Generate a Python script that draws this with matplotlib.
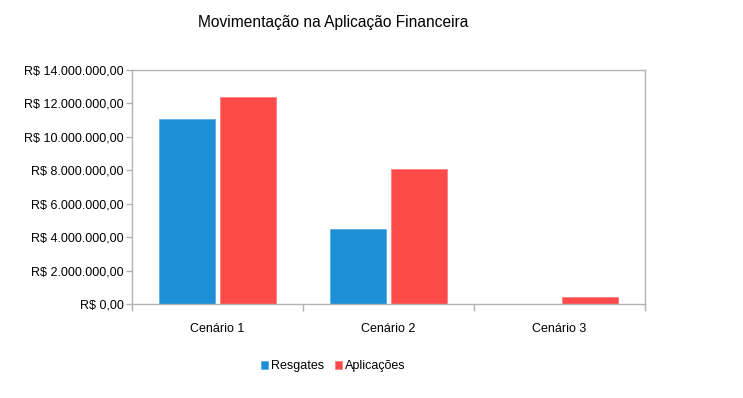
import matplotlib.pyplot as plt
import numpy as np

plt.rcParams['font.family'] = ['Liberation Sans', 'DejaVu Sans']

cenarios = ["Cenário 1", "Cenário 2", "Cenário 3"]
resgates = [11070000, 4490000, 0]
aplicacoes = [12380000, 8080000, 420000]
yticks = [0, 2000000, 4000000, 6000000, 8000000, 10000000, 12000000, 14000000]


def brl(v):
    s = f"{v:,.2f}".replace(",", "X").replace(".", ",").replace("X", ".")
    return "R$ " + s


fig = plt.figure(figsize=(7.43, 3.98), dpi=100)
ax = fig.add_axes([132 / 743, 1 - 304 / 398, (645 - 132) / 743, (304 - 70) / 398])

x = np.arange(len(cenarios))
w = 0.325
gap = 0.03
ax.bar(x - w / 2 - gap / 2, resgates, w, color="#1c8fd7", edgecolor="#5aaee3",
       linewidth=0.6, label="Resgates")
ax.bar(x + w / 2 + gap / 2, aplicacoes, w, color="#ff4a4a", edgecolor="#ff8080",
       linewidth=0.6, label="Aplicações")

ax.set_xlim(-0.5, 2.5)
ax.set_ylim(0, 14000000)
ax.set_yticks(yticks)
ax.set_yticklabels([brl(v) for v in yticks], fontsize=9)
ax.set_xticks(x)
ax.set_xticklabels(cenarios, fontsize=9)
ax.set_xticks([-0.5, 0.5, 1.5, 2.5], minor=True)
ax.tick_params(axis="x", which="major", length=0, pad=14)
ax.tick_params(axis="x", which="minor", length=5, color="#b3b3b3", width=1)
ax.tick_params(axis="y", length=4, color="#b3b3b3", width=1, pad=2)

for sp in ax.spines.values():
    sp.set_color("#b3b3b3")
    sp.set_linewidth(1)

fig.text(333 / 743, 1 - 22 / 398, "Movimentação na Aplicação Financeira",
         ha="center", va="center", fontsize=11.2)

fig.legend(loc="center", bbox_to_anchor=(333 / 743, 1 - 366 / 398), ncol=2,
           frameon=False, fontsize=9, handlelength=0.6, handleheight=0.6,
           handletextpad=0.2, columnspacing=0.9)

fig.savefig("out.png", dpi=100)
